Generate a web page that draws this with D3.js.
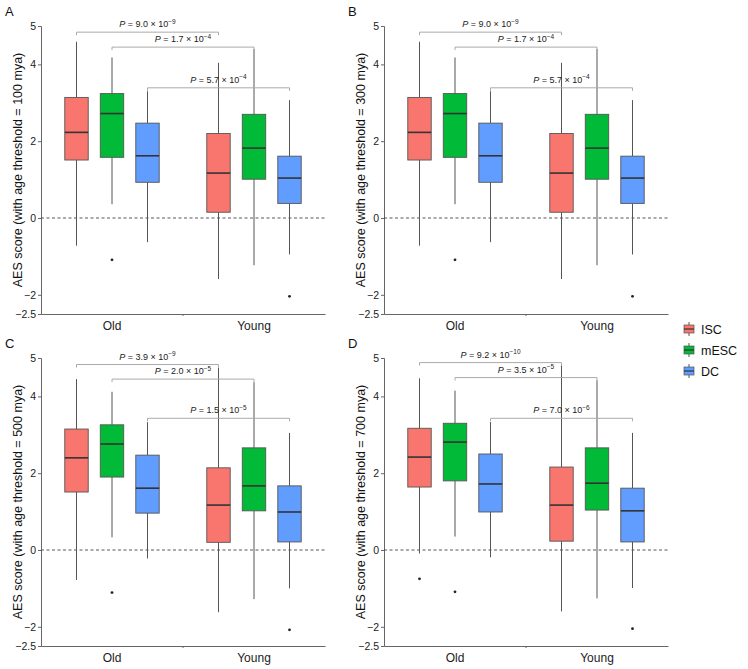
<!DOCTYPE html>
<html><head><meta charset="utf-8">
<script src="https://cdn.jsdelivr.net/npm/d3@7"></script>
<style>body{margin:0;background:#fff;} svg{display:block;font-family:"Liberation Sans",Arial,Helvetica,sans-serif;}</style>
</head><body><svg id="c" width="748" height="669"></svg>
<script>
const panels = ["A","B","C","D"];
const thresholds = [100, 300, 500, 700];
const groups = ["Old","Young"];
const cells = ["ISC","mESC","DC"];
const cellColors = ["#F8766D","#00BA38","#619CFF"];
const yTicks = [-2.5,-2,0,2,4,5];
// order per panel: Old-ISC, Old-mESC, Old-DC, Young-ISC, Young-mESC, Young-DC
const lowA = [-0.72, 0.36, -0.63, -1.59, -1.23, -0.95];
const q1A  = [1.51, 1.58, 0.93, 0.15, 1.01, 0.38];
const medA = [2.23, 2.72, 1.62, 1.17, 1.82, 1.04];
const q3A  = [3.14, 3.24, 2.47, 2.20, 2.70, 1.61];
const upA  = [4.59, 4.18, 3.30, 4.04, 4.40, 3.07];
const outA = [[], [-1.09], [], [], [], [-2.04]];
const lowC = [-0.78, 0.33, -0.22, -1.62, -1.28, -1.00];
const q1C  = [1.51, 1.90, 0.96, 0.20, 1.02, 0.21];
const medC = [2.40, 2.76, 1.61, 1.17, 1.67, 0.99];
const q3C  = [3.15, 3.26, 2.47, 2.14, 2.66, 1.67];
const upC  = [4.45, 4.12, 3.33, 4.75, 4.37, 3.05];
const outC = [[], [-1.11], [], [], [], [-2.08]];
const lowD = [-0.09, 0.35, -0.19, -1.60, -1.26, -0.99];
const q1D  = [1.64, 1.80, 0.99, 0.23, 1.04, 0.21];
const medD = [2.42, 2.81, 1.72, 1.17, 1.74, 1.02];
const q3D  = [3.17, 3.30, 2.50, 2.16, 2.66, 1.61];
const upD  = [4.47, 4.15, 3.33, 4.80, 4.42, 3.05];
const outD = [[-0.75], [-1.09], [], [], [], [-2.05]];
// P-value brackets: [mantissa, exponent], height (data units)
const pMantA = ["9.0","1.7","5.7"], pExpA = ["−9","−4","−4"], pYA = [4.84, 4.45, 3.39];
const pMantC = ["3.9","2.0","1.5"], pExpC = ["−9","−5","−5"], pYC = [4.83, 4.45, 3.43];
const pMantD = ["9.2","3.5","7.0"], pExpD = ["−10","−5","−6"], pYD = [4.88, 4.49, 3.43];

const panelData = [
  {low:lowA,q1:q1A,med:medA,q3:q3A,up:upA,out:outA,pm:pMantA,pe:pExpA,py:pYA},
  {low:lowA,q1:q1A,med:medA,q3:q3A,up:upA,out:outA,pm:pMantA,pe:pExpA,py:pYA},
  {low:lowC,q1:q1C,med:medC,q3:q3C,up:upC,out:outC,pm:pMantC,pe:pExpC,py:pYC},
  {low:lowD,q1:q1D,med:medD,q3:q3D,up:upD,out:outD,pm:pMantD,pe:pExpD,py:pYD}
];

const svg = d3.select("#c");
const W = 284, H = 288;
const origins = [[41,26],[384,26],[41,358],[384,358]];
const axisCol = "#666";

panels.forEach((lab, pi) => {
  const [ox, oy] = origins[pi];
  const d = panelData[pi];
  const g = svg.append("g").attr("transform", `translate(${ox},${oy})`);
  const y = d3.scaleLinear().domain([-2.5, 5]).range([H, 0]);
  const x0 = d3.scaleBand().domain(groups).range([0, W]).padding(0);
  const x1 = d3.scaleBand().domain(cells).range([-x0.bandwidth()*0.375, x0.bandwidth()*0.375]).padding(0);
  const bw = x1.bandwidth()*0.66;
  const cx = (gi, ci) => x0(groups[gi]) + x0.bandwidth()/2 + x1(cells[ci]) + x1.bandwidth()/2;

  // panel letter
  svg.append("text").attr("x", ox-36).attr("y", oy-10).attr("font-size", 13).attr("fill","#111").text(lab);
  // y title
  svg.append("text").attr("transform", `translate(${ox-19},${oy+H/2}) rotate(-90)`)
    .attr("text-anchor","middle").attr("font-size", 12.5).attr("fill","#111")
    .text(`AES score (with age threshold = ${thresholds[pi]} mya)`);

  // axes
  const ya = d3.axisLeft(y).tickValues(yTicks).tickSize(3).tickPadding(2)
    .tickFormat(v => (v < 0 ? "−" : "") + Math.abs(v));
  const yg = g.append("g").call(ya);
  yg.select(".domain").attr("stroke", axisCol);
  yg.selectAll(".tick line").attr("stroke", axisCol);
  yg.selectAll(".tick text").attr("font-size", 10.5).attr("fill","#222").attr("font-family","Liberation Sans, Arial, sans-serif");
  const xa = d3.axisBottom(x0).tickSize(0).tickPadding(7);
  const xg = g.append("g").attr("transform", `translate(0,${H})`).call(xa);
  xg.select(".domain").attr("stroke", axisCol);
  xg.selectAll(".tick text").attr("font-size", 12).attr("fill","#222").attr("font-family","Liberation Sans, Arial, sans-serif");
  g.append("line").attr("x1", W/2).attr("x2", W/2).attr("y1", H).attr("y2", H+2).attr("stroke", axisCol);

  // zero line
  g.append("line").attr("x1", 0).attr("x2", W).attr("y1", y(0)).attr("y2", y(0))
    .attr("stroke","#444").attr("stroke-dasharray","3,2.5").attr("stroke-width",0.9);

  // boxes
  for (let gi = 0; gi < groups.length; gi++) {
    for (let ci = 0; ci < cells.length; ci++) {
      const k = gi*3 + ci, c = cx(gi, ci);
      g.append("line").attr("x1", c).attr("x2", c).attr("y1", y(d.up[k])).attr("y2", y(d.q3[k])).attr("stroke","#555").attr("stroke-width",1);
      g.append("line").attr("x1", c).attr("x2", c).attr("y1", y(d.q1[k])).attr("y2", y(d.low[k])).attr("stroke","#555").attr("stroke-width",1);
      g.append("rect").attr("x", c-bw/2).attr("width", bw).attr("y", y(d.q3[k])).attr("height", y(d.q1[k]) - y(d.q3[k]))
        .attr("fill", cellColors[ci]).attr("stroke","#555").attr("stroke-width",0.9);
      g.append("line").attr("x1", c-bw/2).attr("x2", c+bw/2).attr("y1", y(d.med[k])).attr("y2", y(d.med[k])).attr("stroke","#333").attr("stroke-width",1.6);
      d.out[k].forEach(v => g.append("circle").attr("cx", c).attr("cy", y(v)).attr("r", 1.4).attr("fill","#222"));
    }
  }

  // brackets
  for (let ci = 0; ci < 3; ci++) {
    const xa1 = cx(0, ci), xb1 = cx(1, ci), yy = y(d.py[ci]);
    g.append("path").attr("d", `M${xa1},${yy+3}V${yy}H${xb1}V${yy+3}`).attr("fill","none").attr("stroke","#aaa").attr("stroke-width",1);
    const t = g.append("text").attr("x", (xa1+xb1)/2).attr("y", yy-5).attr("text-anchor","middle").attr("font-size", 9).attr("fill","#222");
    t.append("tspan").attr("font-style","italic").text("P");
    t.append("tspan").text(` = ${d.pm[ci]} × 10`);
    t.append("tspan").attr("font-size", 6.5).attr("dy", -3.5).text(d.pe[ci]);
  }
});

// legend
const lg = svg.append("g").attr("transform","translate(689,0)");
const legY = [329, 350, 371];
cells.forEach((c, i) => {
  const yy = legY[i];
  lg.append("line").attr("x1",0).attr("x2",0).attr("y1",yy-7).attr("y2",yy+7).attr("stroke","#555");
  lg.append("rect").attr("x",-5).attr("y",yy-4).attr("width",10).attr("height",8).attr("fill",cellColors[i]).attr("stroke","#555").attr("stroke-width",0.7);
  lg.append("line").attr("x1",-5).attr("x2",5).attr("y1",yy).attr("y2",yy).attr("stroke","#333").attr("stroke-width",1.2);
  lg.append("text").attr("x",12).attr("y",yy+4.5).attr("font-size",12.5).attr("fill","#111").text(c);
});
</script></body></html>
